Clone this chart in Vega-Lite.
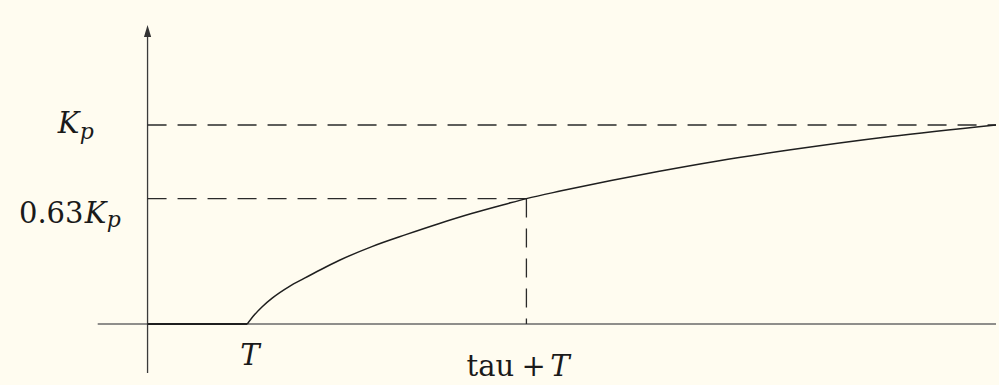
{
  "$schema": "https://vega.github.io/schema/vega-lite/v6.json",
  "description": "Step response of a first-order process with dead time T and time constant tau.",
  "width": 999,
  "height": 385,
  "autosize": {"type": "fit", "contains": "padding"},
  "padding": 0,
  "background": "#fffcf0",
  "config": {"view": {"stroke": null}, "text": {"font": "DejaVu Serif"}},
  "datasets": {
    "response": [
      {"t": 1.0, "v": 0.0},
      {"t": 1.07, "v": 0.045},
      {"t": 1.15, "v": 0.087},
      {"t": 1.25, "v": 0.13},
      {"t": 1.42, "v": 0.188},
      {"t": 1.57, "v": 0.229},
      {"t": 1.74, "v": 0.274},
      {"t": 1.92, "v": 0.319},
      {"t": 2.25, "v": 0.389},
      {"t": 2.59, "v": 0.449},
      {"t": 2.92, "v": 0.504},
      {"t": 3.25, "v": 0.555},
      {"t": 3.59, "v": 0.602},
      {"t": 3.8, "v": 0.63},
      {"t": 4.15, "v": 0.669},
      {"t": 4.65, "v": 0.721},
      {"t": 5.12, "v": 0.766},
      {"t": 5.72, "v": 0.819},
      {"t": 6.45, "v": 0.875},
      {"t": 7.45, "v": 0.942},
      {"t": 8.51, "v": 1.0}
    ],
    "guides": [
      {"t": 0, "t2": 8.51, "v": 1, "v2": 1},
      {"t": 0, "t2": 3.8, "v": 0.63, "v2": 0.63},
      {"t": 3.8, "t2": 3.8, "v": 0.63, "v2": 0}
    ],
    "romanLabels": [
      {"label": "0.63", "t": -1.29, "v": 0.508},
      {"label": "tau", "t": 3.2, "v": -0.261},
      {"label": "+", "t": 3.75, "v": -0.261}
    ],
    "italicLabels": [
      {"label": "K", "t": -0.9, "v": 0.96},
      {"label": "K", "t": -0.63, "v": 0.508},
      {"label": "T", "t": 0.93, "v": -0.206},
      {"label": "T", "t": 4.04, "v": -0.261}
    ],
    "subscripts": [
      {"label": "p", "t": -0.68, "v": 0.932},
      {"label": "p", "t": -0.41, "v": 0.485}
    ]
  },
  "encoding": {
    "x": {
      "field": "t",
      "type": "quantitative",
      "scale": {"domain": [-1.48, 8.51], "nice": false, "zero": false},
      "axis": null
    },
    "y": {
      "field": "v",
      "type": "quantitative",
      "scale": {"domain": [-0.3065, 1.628], "nice": false, "zero": false},
      "axis": null
    }
  },
  "layer": [
    {
      "data": {"values": [{"t": -0.5, "t2": 8.51, "v": 0}]},
      "mark": {"type": "rule", "color": "#6a6a6a", "strokeWidth": 1.5},
      "encoding": {"x2": {"field": "t2"}}
    },
    {
      "data": {"values": [{"t": 0, "v": -0.246, "v2": 1.45}]},
      "mark": {"type": "rule", "color": "#3a3a3a", "strokeWidth": 1.3},
      "encoding": {"y2": {"field": "v2"}}
    },
    {
      "data": {"values": [{"t": 0, "v": 1.472}]},
      "mark": {
        "type": "point",
        "shape": "M0,-1L0.6,1L-0.6,1Z",
        "filled": true,
        "size": 144,
        "color": "#333333",
        "opacity": 1
      }
    },
    {
      "data": {"name": "guides"},
      "mark": {"type": "rule", "color": "#2a2a2a", "strokeWidth": 1.3, "strokeDash": [19, 11]},
      "encoding": {"x2": {"field": "t2"}, "y2": {"field": "v2"}}
    },
    {
      "data": {"values": [{"t": 0, "t2": 1, "v": 0}]},
      "mark": {"type": "rule", "color": "#1f1f1f", "strokeWidth": 1.8},
      "encoding": {"x2": {"field": "t2"}}
    },
    {
      "data": {"name": "response"},
      "mark": {"type": "line", "interpolate": "monotone", "color": "#1f1f1f", "strokeWidth": 1.5}
    },
    {
      "data": {"name": "romanLabels"},
      "mark": {"type": "text", "align": "left", "baseline": "alphabetic", "fontSize": 29, "color": "#1a1a1a"},
      "encoding": {"text": {"field": "label"}}
    },
    {
      "data": {"name": "italicLabels"},
      "mark": {"type": "text", "align": "left", "baseline": "alphabetic", "fontSize": 29, "fontStyle": "italic", "color": "#1a1a1a"},
      "encoding": {"text": {"field": "label"}}
    },
    {
      "data": {"name": "subscripts"},
      "mark": {"type": "text", "align": "left", "baseline": "alphabetic", "fontSize": 22, "fontStyle": "italic", "color": "#1a1a1a"},
      "encoding": {"text": {"field": "label"}}
    }
  ]
}
